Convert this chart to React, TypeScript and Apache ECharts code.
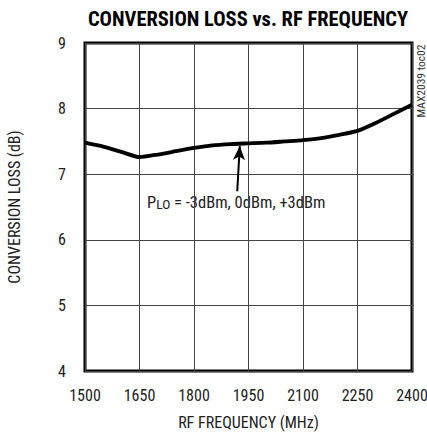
import React, { useEffect, useRef } from "react";
import * as echarts from "echarts";

const freqMHz = [1500, 1550, 1600, 1650, 1700, 1750, 1800, 1850, 1900, 1950, 2000, 2050, 2100, 2150, 2200, 2250, 2300, 2350, 2400];
const lossDb = [7.48, 7.42, 7.34, 7.26, 7.30, 7.35, 7.40, 7.44, 7.46, 7.47, 7.48, 7.50, 7.52, 7.55, 7.60, 7.66, 7.78, 7.92, 8.06];
const xTicks = [1500, 1650, 1800, 1950, 2100, 2250, 2400];
const yTicks = [4, 5, 6, 7, 8, 9];
const arrowFrom = [1919, 6.74];
const arrowTo = [1926, 7.43];

const FONT = "'Roboto Condensed', 'Liberation Sans', sans-serif";

export default function App() {
  const ref = useRef<HTMLDivElement>(null);
  useEffect(() => {
    if (!ref.current) return;
    const chart = echarts.init(ref.current, undefined, { renderer: "svg" });
    chart.setOption({
      animation: false,
      backgroundColor: "#fff",
      textStyle: { fontFamily: FONT },
      title: {
        text: "CONVERSION LOSS vs. RF FREQUENCY",
        left: 243,
        textAlign: "center",
        top: 3,
        textStyle: { fontFamily: FONT, fontWeight: "bold", fontSize: 20.5, color: "#000" },
      },
      grid: {
        left: 85,
        right: 15,
        top: 43,
        bottom: 64,
        containLabel: false,
        outerBoundsMode: "none",
        show: true,
        borderColor: "#000",
        borderWidth: 3,
        backgroundColor: "transparent",
      },
      xAxis: {
        type: "value",
        min: xTicks[0],
        max: xTicks[xTicks.length - 1],
        interval: 150,
        name: "RF FREQUENCY (MHz)",
        nameLocation: "middle",
        nameGap: 43,
        nameTextStyle: { fontFamily: FONT, fontSize: 16, color: "#222" },
        axisLine: { show: false },
        axisTick: { show: false },
        axisLabel: { fontFamily: FONT, fontSize: 16, color: "#222", margin: 16, formatter: (v: number) => String(v) },
        splitLine: { show: true, lineStyle: { color: "#444", width: 1 } },
      },
      yAxis: {
        type: "value",
        min: yTicks[0],
        max: yTicks[yTicks.length - 1],
        interval: 1,
        name: "CONVERSION LOSS (dB)",
        nameLocation: "middle",
        nameGap: 63,
        nameTextStyle: { fontFamily: FONT, fontSize: 16, color: "#222" },
        axisLabel: { fontFamily: FONT, fontSize: 16, color: "#222", margin: 19, formatter: (v: number) => String(v) },
        axisLine: { show: false },
        axisTick: { show: false },
        splitLine: { show: true, lineStyle: { color: "#444", width: 1 } },
      },
      series: [
        {
          type: "line",
          data: freqMHz.map((f, i) => [f, lossDb[i]]),
          showSymbol: false,
          smooth: 0.2,
          lineStyle: { color: "#000", width: 3.8 },
          markLine: {
            silent: true,
            symbol: ["none", "arrow"],
            symbolSize: [9, 14],
            label: { show: false },
            lineStyle: { color: "#000", width: 2, type: "solid" },
            data: [[{ coord: arrowFrom }, { coord: arrowTo }]],
          },
        },
      ],
      graphic: [
        {
          type: "text",
          left: 147,
          top: 190,
          style: {
            text: "{p|P}{s|LO}{p| = -3dBm, 0dBm, +3dBm}",
            fontFamily: FONT,
            fill: "#222",
            rich: {
              p: { fontFamily: FONT, fontSize: 16.5, fill: "#222", verticalAlign: "bottom", lineHeight: 20 },
              s: { fontFamily: FONT, fontSize: 13.5, fill: "#222", verticalAlign: "bottom", lineHeight: 14, padding: [7, 0, 0, 0] },
            },
          },
        },
        {
          type: "text",
          x: 421,
          y: 81,
          rotation: Math.PI / 2,
          style: {
            text: "MAX2039 toc02",
            fontFamily: FONT,
            fontSize: 11.5,
            fill: "#333",
            align: "center",
            verticalAlign: "middle",
          },
        },
      ],
    });
    return () => chart.dispose();
  }, []);
  return <div ref={ref} style={{ width: 427, height: 435, position: "absolute", left: 0, top: 0 }} />;
}
